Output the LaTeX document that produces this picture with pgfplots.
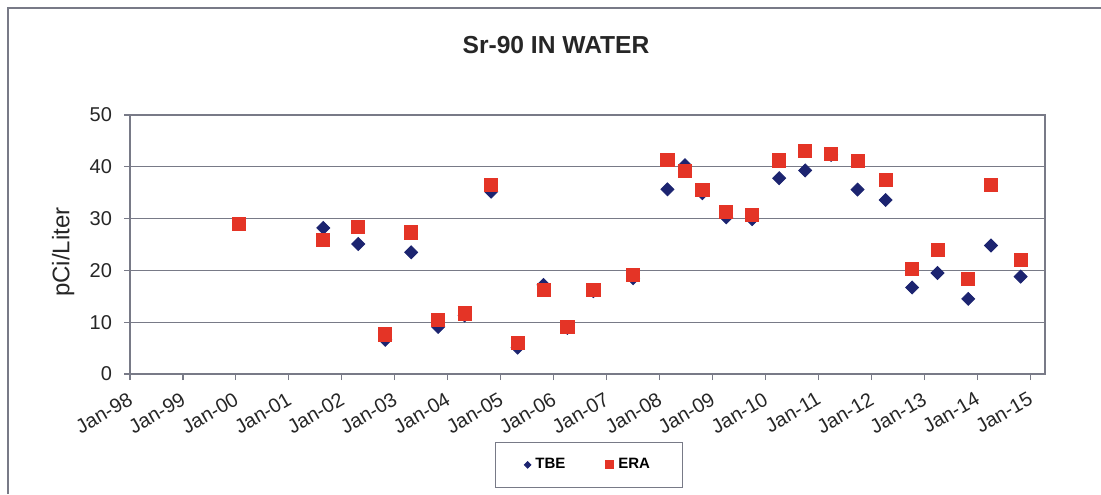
\documentclass[border=0pt]{standalone}
\usepackage{pgfplots}
\pgfplotsset{compat=1.18}
\usepackage{fontspec}
\setmainfont{Liberation Sans}
\definecolor{tbe}{RGB}{28,36,112}
\definecolor{era}{RGB}{228,52,38}
\definecolor{axgray}{RGB}{120,122,135}
\begin{document}
\begin{tikzpicture}
\path[use as bounding box] (0,0) rectangle (550.5pt,247pt);
\draw[axgray,line width=0.6pt] (4pt,0pt) -- (4pt,243pt) -- (550.5pt,243pt);
\node[font=\bfseries\fontsize{12.3}{14}\selectfont, text=black!85] at (278pt,224.5pt) {Sr-90 IN WATER};
\begin{axis}[
  at={(65pt,60pt)}, anchor=south west,
  scale only axis, width=457.5pt, height=129.5pt,
  xmin=1998, xmax=2015.28, ymin=0, ymax=50,
  xtick={1998,...,2015},
  xticklabels={Jan-98,Jan-99,Jan-00,Jan-01,Jan-02,Jan-03,Jan-04,Jan-05,Jan-06,Jan-07,Jan-08,Jan-09,Jan-10,Jan-11,Jan-12,Jan-13,Jan-14,Jan-15},
  ytick={0,10,...,50},
  /pgf/number format/assume math mode=true,
  tick align=outside, major tick length=3pt,
  xtick pos=bottom, ytick pos=left,
  ymajorgrids, grid style={axgray,line width=0.6pt},
  axis line style={axgray,line width=0.6pt},
  tick style={axgray,line width=0.6pt},
  ticklabel style={font=\fontsize{10}{12}\selectfont, text=black!85},
  xticklabel style={rotate=30, anchor=north east, inner sep=1pt, yshift=-3pt, xshift=-3pt},
  yticklabel style={xshift=-2.5pt},
  ylabel={pCi/Liter},
  ylabel style={at={(axis description cs:-0.073,0.47)}, anchor=center, font=\fontsize{12}{14}\selectfont, text=black!85},
  legend columns=2,
  legend style={at={(axis description cs:0.5016,-0.351)}, anchor=center, draw=axgray, line width=0.5pt,
    font=\bfseries\fontsize{7.5}{9}\selectfont, inner xsep=14pt, inner ysep=6pt,
    /tikz/every even column/.append style={column sep=18pt}},
  legend cell align=left,
]
\addplot[only marks, mark=square*, mark size=2.3pt, mark options={rotate=45, fill=tbe, draw=tbe},
  legend image code/.code={\fill[tbe] (0.12cm,-1.6pt) -- (0.12cm+1.6pt,0pt) -- (0.12cm,1.6pt) -- (0.12cm-1.6pt,0pt) -- cycle;}]
coordinates {
(2001.65,28.2) (2002.31,25.1) (2002.82,6.6) (2003.31,23.5) (2003.82,9.1) (2004.32,11.3)
(2004.82,35.2) (2005.32,5.1) (2005.81,17.2) (2006.26,8.9) (2006.75,16.0) (2007.50,18.5)
(2008.15,35.65) (2008.48,40.3) (2008.81,34.9) (2009.26,30.25) (2009.75,29.9) (2010.26,37.8)
(2010.75,39.3) (2011.24,42.3) (2011.74,35.6) (2012.27,33.6) (2012.77,16.7) (2013.25,19.5)
(2013.83,14.5) (2014.26,24.8) (2014.82,18.8)
};
\addlegendentry{TBE}
\addplot[only marks, mark=square*, mark size=3.3pt, mark options={fill=era, draw=era},
  legend image code/.code={\fill[era] (0.12cm-2pt,-2pt) rectangle (0.12cm+2pt,2pt);}]
coordinates {
(2000.06,29.0) (2001.65,25.9) (2002.31,28.4) (2002.82,7.66) (2003.31,27.35) (2003.82,10.4)
(2004.32,11.7) (2004.82,36.5) (2005.32,6.05) (2005.81,16.2) (2006.26,9.1) (2006.75,16.2)
(2007.50,19.2) (2008.15,41.3) (2008.48,39.25) (2008.81,35.6) (2009.26,31.3) (2009.75,30.7)
(2010.26,41.25) (2010.75,43.05) (2011.24,42.5) (2011.74,41.1) (2012.27,37.45) (2012.77,20.3)
(2013.25,24.0) (2013.83,18.3) (2014.26,36.5) (2014.82,22.0)
};
\addlegendentry{ERA}
\end{axis}
\end{tikzpicture}
\end{document}
